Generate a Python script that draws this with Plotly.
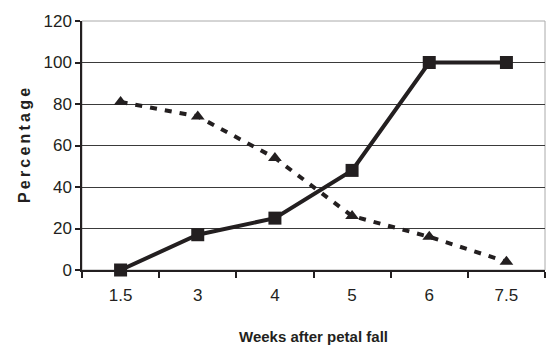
import plotly.graph_objects as go

weeks = ["1.5", "3", "4", "5", "6", "7.5"]
solid_vals = [0, 17, 25, 48, 100, 100]
dashed_vals = [81, 74, 54, 26, 16, 4]
y_ticks = [0, 20, 40, 60, 80, 100, 120]

font_fam = "Liberation Sans, Arial, sans-serif"
ytitle = "\u2009".join("Percentage")

fig = go.Figure()
fig.add_trace(go.Scatter(
    x=weeks, y=dashed_vals, mode="lines+markers",
    line=dict(color="#231f20", width=4, dash="7px,8px"),
    marker=dict(symbol="triangle-up", size=12, color="#231f20"),
    showlegend=False, cliponaxis=False))
fig.add_trace(go.Scatter(
    x=weeks, y=solid_vals, mode="lines+markers",
    line=dict(color="#231f20", width=4),
    marker=dict(symbol="square", size=13, color="#231f20"),
    showlegend=False, cliponaxis=False))

# light frame top/right
fig.add_shape(type="rect", xref="paper", yref="paper", x0=0, y0=0, x1=1, y1=1,
              line=dict(color="#aaaaaa", width=1), layer="below")

fig.update_layout(
    width=548, height=360,
    margin=dict(l=82, r=3, t=21, b=90),
    paper_bgcolor="white", plot_bgcolor="white",
    font=dict(family=font_fam, color="#231f20", size=17),
    xaxis=dict(
        type="category", range=[-0.5, 5.5],
        tickson="boundaries", ticks="outside", ticklen=6, tickwidth=1.5,
        tickcolor="#231f20", ticklabelstandoff=9,
        showline=True, linecolor="#231f20", linewidth=1.5,
        showgrid=False, tickfont=dict(size=17, family=font_fam),
        title=dict(text="<b>Weeks after petal fall</b>", standoff=27,
                   font=dict(size=15, family=font_fam)),
    ),
    yaxis=dict(
        range=[0, 120], tickvals=y_ticks,
        ticks="outside", ticklen=5, tickwidth=1.5, tickcolor="#231f20",
        showline=True, linecolor="#231f20", linewidth=1.5,
        showgrid=True, gridcolor="#3a3a3a", gridwidth=1.2,
        zeroline=False, tickfont=dict(size=17, family=font_fam),
        title=dict(text="<b>" + ytitle + "</b>", standoff=9,
                   font=dict(size=16, family=font_fam)),
    ),
)

fig.write_html("out.html")
